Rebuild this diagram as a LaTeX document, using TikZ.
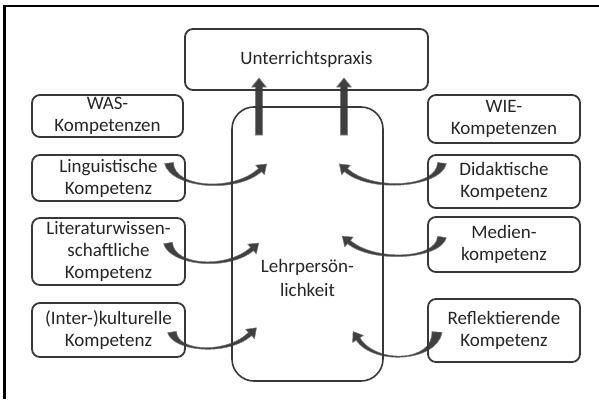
\documentclass[tikz,border=0pt]{standalone}
\usepackage{fontspec}
\setmainfont{Carlito}
\usetikzlibrary{calc}
\definecolor{boxline}{HTML}{383838}
\definecolor{txt}{HTML}{262626}
\definecolor{arrfill}{HTML}{404040}
\definecolor{arredge}{HTML}{808080}
\tikzset{
  box/.style={draw=boxline, line width=1.8pt, rounded corners=8pt, text=txt,
    align=center, inner sep=0pt, font=\fontsize{19}{22}\selectfont},
  carr/.style={fill=arrfill, draw=arredge, line width=0.5pt, line join=round},
  uparr/.style={fill=arrfill, draw=arredge, line width=0.6pt},
}
\newcommand\curvarr[5]{%
  \filldraw[carr] ($(#1)!#5!90:(#2)$) .. controls ($(#2)!1.6pt!-90:(#1)$) and ($(#3)!1.6pt!90:(#4)$) .. ($(#4)!2.2pt!-90:(#3)$)
    -- ($(#4)!6.5pt!-90:(#3)$) -- ($(#4)!-9pt!(#3)$) -- ($(#4)!6.5pt!90:(#3)$) -- ($(#4)!2.2pt!90:(#3)$)
    .. controls ($(#3)!1.6pt!-90:(#4)$) and ($(#2)!1.6pt!90:(#1)$) .. ($(#1)!#5!-90:(#2)$) -- cycle;}
\begin{document}
\begin{tikzpicture}[x=1pt,y=-1pt]
\useasboundingbox (0,0) rectangle (599,399);
% outer frame (left and top edges visible)
\draw[line width=2.4pt, black] (4.5,399) -- (4.5,6) -- (599,6);

% curved arrows (left side)
\coordinate (l1s) at (169,163); \coordinate (l1a) at (172,188); \coordinate (l1b) at (235,193); \coordinate (l1e) at (260,170);
\curvarr{l1s}{l1a}{l1b}{l1e}{4.5pt}
\coordinate (l2s) at (168,243); \coordinate (l2a) at (172,266); \coordinate (l2b) at (228,270); \coordinate (l2e) at (252,249);
\curvarr{l2s}{l2a}{l2b}{l2e}{4.5pt}
\coordinate (l3s) at (172,332); \coordinate (l3a) at (175,352); \coordinate (l3b) at (228,355); \coordinate (l3e) at (250,334);
\curvarr{l3s}{l3a}{l3b}{l3e}{4.5pt}
% curved arrows (right side)
\coordinate (r1s) at (442,163); \coordinate (r1a) at (439,188); \coordinate (r1b) at (370,192); \coordinate (r1e) at (346,170);
\curvarr{r1s}{r1a}{r1b}{r1e}{4.5pt}
\coordinate (r2s) at (442,237); \coordinate (r2a) at (438,260); \coordinate (r2b) at (372,262); \coordinate (r2e) at (349,242);
\curvarr{r2s}{r2a}{r2b}{r2e}{4.5pt}
\coordinate (r3s) at (437,332); \coordinate (r3a) at (435,362); \coordinate (r3b) at (375,365); \coordinate (r3e) at (358,339);
\curvarr{r3s}{r3a}{r3b}{r3e}{5.2pt}

% up arrows
\coordinate (u1a) at (259,135); \coordinate (u1b) at (259,78);
\coordinate (u2a) at (344,135); \coordinate (u2b) at (344,78);
\foreach \u in {u1,u2}{
  \filldraw[uparr] ($(\u a)+(-3.6,0)$) -- ($(\u b)+(-3.6,9)$) -- ($(\u b)+(-7.3,9)$) -- (\u b)
    -- ($(\u b)+(7.3,9)$) -- ($(\u b)+(3.6,9)$) -- ($(\u a)+(3.6,0)$) -- cycle;
}

% boxes
\node[box, minimum width=243pt, minimum height=61pt] (up) at (306.5,59.5) {Unterrichtspraxis};
\node[box, minimum width=151pt, minimum height=274pt, rounded corners=22pt, line width=1.6pt,
  label={[text=txt, align=center, font=\fontsize{19}{24}\selectfont, yshift=-34pt]center:{Lehrpersön-\\lichkeit}}] (lp) at (307.5,244) {};
\node[box, minimum width=151pt, minimum height=42pt] (was) at (107.5,116) {WAS-\\Kompetenzen};
\node[box, minimum width=153pt, minimum height=46pt] (ling) at (108.5,178) {Linguistische\\Kompetenz};
\node[box, minimum width=153pt, minimum height=67pt] (lit) at (108.5,251.5) {Literaturwissen-\\schaftliche\\Kompetenz};
\node[box, minimum width=153pt, minimum height=54pt] (inter) at (108.5,330) {(Inter-)kulturelle\\Kompetenz};
\node[box, minimum width=152pt, minimum height=48pt] (wie) at (504,119) {WIE-\\Kompetenzen};
\node[box, minimum width=152pt, minimum height=53pt] (did) at (504,181.5) {Didaktische\\Kompetenz};
\node[box, minimum width=152pt, minimum height=55pt] (med) at (504,244.5) {Medien-\\kompetenz};
\node[box, minimum width=152pt, minimum height=63pt] (ref) at (504,330.5) {Reflektierende\\Kompetenz};
\end{tikzpicture}
\end{document}
